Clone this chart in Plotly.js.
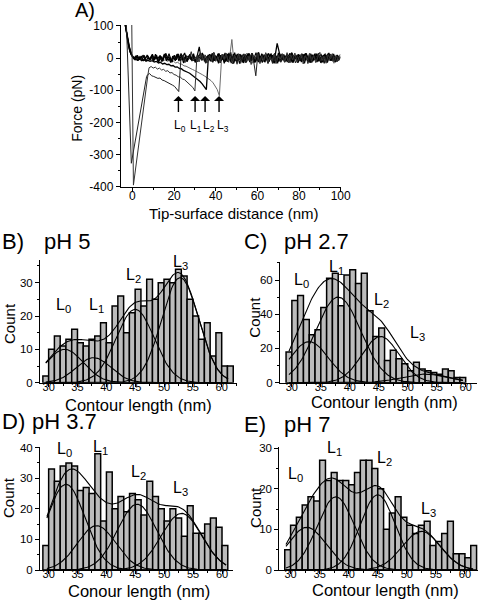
<!DOCTYPE html>
<html><head><meta charset="utf-8">
<script src="https://cdn.plot.ly/plotly-3.0.1.min.js"></script>
<style>html,body{margin:0;padding:0;background:#fff}#chart{width:480px;height:600px}</style>
</head><body><div id="chart"></div>
<script>
// ---------- Panel A: force curves ----------
const forceTicks = [100, 0, -100, -200, -300, -400];
const forceTickText = ['100', '0', '-100', '-200', '-300', '-400'];
const distTicks = [0, 20, 40, 60, 80, 100];
const ruptureX = [22.1, 30.1, 34.9, 41.6];
const ruptureLabelX = [22.9, 30.4, 37.0, 43.6];
const ruptureLabels = ['L<sub>0</sub>', 'L<sub>1</sub>', 'L<sub>2</sub>', 'L<sub>3</sub>'];

// each trace: explicit head points (approach / adhesion) + body sampled every 1 nm
const traceA_headX = [-0.3, 0.5, 7.5];
const traceA_headY = [110, -395, -50];
const traceA_start = 8.0;
const traceA_body = [-30,-26,-31,-28,-34,-31,-37,-35,-41,-39,-46,-45,-51,-53,-58,-59,-65,-67,-73,-77,-84,-91,-102,
 8,-12,15,-6,10,-15,5,-8,18,-10,
 4,-14,12,-3,16,-12,6,-18,10,-5,
 14,-16,3,12,-10,7,-20,9,-4,15,
 -12,6,-8,17,-14,4,-9,13,-17,8,
 -3,14,-11,5,-15,11,-6,16,-13,2,
 12,-18,7,-5,15,-10,9,-14,4,18,
 -8,6,-16,11,-2,14,-12,8,-9,5];

const traceB_headX = [-2.9, -0.5, 6.8];
const traceB_headY = [110, -327, -58];
const traceB_start = 7.25;
const traceB_body = [-52,-48,-55,-57,-60,-63,-62,-68,-70,-73,-76,-80,-84,-88,-95,-104,
 -6,10,-14,7,-3,20,-9,4,-12,14,
 -5,11,-16,3,9,-11,17,-7,2,-15,
 12,-4,8,-13,18,-9,5,-19,10,-2,
 13,-14,6,-7,16,-11,-55,14,-17,9,
 -6,12,-10,5,-16,15,-4,8,-13,11,
 -8,17,-12,3,10,-15,6,-9,14,-5,
 9,-17,12,-3,7,-11,16,-8,4,-14,
 10,-6,13,-10,5,-12,8];

const traceC_headX = [-3.5, -2.5, -1.5, -0.5];
const traceC_headY = [105, 62, 30, 10];
const traceC_start = 0.5;
const traceC_body = [2,-4,-6,-3,-8,-5,-9,-7,-10,-8,
 -12,-10,-15,-13,-18,-16,-20,-19,-24,-23,
 -28,-27,-32,-33,-38,-40,-44,-47,-52,-56,
 -61,-66,-73,-80,-88,-98,
 5,-10,14,-7,3,-13,9,-4,16,-11,
 7,-15,12,-2,8,-17,4,11,-9,15,
 -6,10,-14,2,18,-8,5,-12,9,-3,
 14,-16,6,46,12,-10,5,-7,3,-13,
 17,-9,8,-14,4,11,-6,15,-11,2,
 -8,13,-4,9,-15,6,12,-10,5,-7,
 10,-12,7,-3];

const traceD_headX = [-3.3, -2.3, -1.3, -0.3];
const traceD_headY = [102, 55, 22, 6];
const traceD_start = 0.75;
const traceD_body = [0,5,-3,7,-2,4,-5,3,-6,2,
 -4,1,-7,-3,-8,-5,-10,-7,-12,-10,
 -15,-13,-18,-19,-24,-25,-29,-31,-35,-38,
 -41,-45,-48,-52,-56,-60,-64,-70,-77,-86,-98,-117,
 -8,12,-5,-10,6,58,-14,9,-4,13,
 -11,4,15,-7,10,-16,2,-9,17,-5,
 8,-13,11,-3,14,-10,6,-17,9,-2,
 12,-8,4,-15,16,-6,10,-12,3,13,
 -9,7,-14,11,-4,15,-10,5,-13,8,
 -5,14,-9,3,-16,10,-7,12];

const traceE_headX = [-3.6, -2.6, -1.6, -0.6];
const traceE_headY = [108, 70, 38, 14];
const traceE_start = 0.1;
const traceE_body = [4,-2,6,-5,3,8,-4,10,-6,5,
 -9,12,-3,7,-11,4,15,-7,2,-12,
 9,-5,13,-8,3,16,-10,6,-4,11,
 -13,7,35,-6,10,-15,4,12,-9,5,
 -3,14,-11,8,-16,6,-4,13,-8,17,
 -12,3,9,-14,11,-5,15,-9,2,-13,
 10,-6,14,-10,5,-17,12,-3,8,-11,
 16,-8,4,-13,9,-2,13,-15,7,-6,
 11,-12,5,15,-9,3,-14,10,-4,12,
 -10,8,-16,6,13,-7,4,-11,9,-3];

const traceF_headX = [-3.4, -2.4, -1.4, -0.4];
const traceF_headY = [104, 66, 34, 12];
const traceF_start = 0.35;
const traceF_body = [3,-6,9,-2,5,-9,2,7,-4,10,
 -7,4,-12,8,-3,13,-8,5,-14,6,
 -2,11,-9,15,-5,3,-11,9,-6,14,
 -10,2,12,-7,6,-13,10,-4,15,-8,
 5,-16,9,-3,12,-7,16,-11,4,-9,
 13,-5,8,-15,3,10,-12,6,-2,17,
 -9,4,-14,11,-6,15,-3,9,-16,7,
 -11,13,-4,8,-12,3,16,-7,10,-14,
 5,-9,12,-2,7,-15,11,-6,14,-10,
 4,-13,9,-5,16,-8,3,-12,10,-6];

const traceG_headX = [-3.2, -2.2, -1.2, -0.2];
const traceG_headY = [100, 50, 20, 4];
const traceG_start = 0.6;
const traceG_body = [-3,7,-8,4,-5,9,-10,3,-7,12,
 -4,9,-13,6,-9,11,-2,14,-10,4,
 -8,13,-3,6,-15,10,-5,12,-9,3,
 -14,8,-2,16,-10,5,-7,11,-13,9,
 -4,15,-8,2,-11,13,-6,7,-17,10,
 -2,12,-9,5,-14,8,-4,15,-10,6,
 -12,3,10,-7,14,-11,5,-3,13,-15,
 8,-6,11,-9,2,15,-13,7,-4,12,
 -8,4,-16,9,-3,14,-10,6,-12,5,
 11,-7,3,-14,8,-5,13,-9,4,-2];

// ---------- Histograms ----------
const binCenters = [29.5,30.5,31.5,32.5,33.5,34.5,35.5,36.5,37.5,38.5,39.5,40.5,41.5,42.5,43.5,44.5,45.5,46.5,47.5,48.5,49.5,50.5,51.5,52.5,53.5,54.5,55.5,56.5,57.5,58.5,59.5,60.5,61.5];
const lengthTicks = [30, 35, 40, 45, 50, 55, 60];

const countsB = [2,10,14,11,13,16,12,11,13,14,18,12,23,26,15,21,28,23,31,25,30,31,30,34,32,25,20,13,18,8,15,5,5];
const countsC = [18,48,51,37,28,31,44,61,64,45,63,66,58,64,42,27,32,13,19,14,11,7,12,8,7,6,5,8,7,3,3];
const countsD = [8,33,29,34,35,34,26,27,25,38,16,32,20,24,19,25,23,18,29,24,20,16,20,17,11,21,12,12,15,17,14,8];
const countsE = [5,11,13,16,18,17,27,22,24,22,22,21,24,27,27,25,20,10,14,18,13,11,9,11,12,6,7,9,12,4,4,3,6];

// Gaussian fit parameters (L0..L3)
const fitCentersB = [32.8, 37.8, 45.0, 52.8], fitAmpsB = [10, 7.5, 22, 31.5], fitSigmasB = [3.2, 3.0, 3.3, 3.2];
const fitCentersC = [33.0, 38.0, 45.3, 53.0], fitAmpsC = [24, 50, 27, 5], fitSigmasC = [3.3, 3.9, 3.2, 4.0];
const fitCentersD = [33.0, 38.3, 45.3, 53.0], fitAmpsD = [28, 14.5, 21.5, 18.5], fitSigmasD = [3.3, 3.3, 3.4, 3.5];
const fitCentersE = [32.8, 37.8, 45.0, 52.5], fitAmpsE = [10.5, 18, 18.5, 9.5], fitSigmasE = [3.3, 3.2, 3.0, 3.3];
const fitRangeB = [29.5, 61.2], fitRangeC = [29.5, 59.5], fitRangeD = [29.7, 60.7], fitRangeE = [29.2, 61.5];

const labelL = ['L<sub>0</sub>', 'L<sub>1</sub>', 'L<sub>2</sub>', 'L<sub>3</sub>'];
const labelPosB = [[32.6, 23], [38.3, 23], [44.7, 32], [52.8, 36]];
const labelPosC = [[31.7, 60], [37.7, 67.5], [45.5, 48], [51.6, 29]];
const labelPosD = [[32.8, 39.5], [38.9, 40], [45.5, 32], [52.8, 26.7]];
const labelPosE = [[30.8, 23.4], [37.6, 29.8], [46.2, 27.5], [53.7, 14.8]];

// ---------- build ----------
const FONT = 'Liberation Sans, Arial, Helvetica, sans-serif';
const data = [];

function forceTrace(hx, hy, start, body, color, w) {
  const x = hx.slice(), y = hy.slice();
  body.forEach((v, i) => { x.push(start + i); y.push(v); });
  return {type: 'scatter', mode: 'lines', x: x, y: y, xaxis: 'x', yaxis: 'y',
          line: {color: color, width: w}, hoverinfo: 'skip'};
}
data.push(forceTrace(traceD_headX, traceD_headY, traceD_start, traceD_body, '#6a6a6a', 1.0));
data.push(forceTrace(traceE_headX, traceE_headY, traceE_start, traceE_body, '#000', 1.2));
data.push(forceTrace(traceF_headX, traceF_headY, traceF_start, traceF_body, '#000', 1.2));
data.push(forceTrace(traceG_headX, traceG_headY, traceG_start, traceG_body, '#000', 1.2));
data.push(forceTrace(traceC_headX, traceC_headY, traceC_start, traceC_body, '#000', 1.3));
data.push(forceTrace(traceB_headX, traceB_headY, traceB_start, traceB_body, '#222', 1.0));
data.push(forceTrace(traceA_headX, traceA_headY, traceA_start, traceA_body, '#333', 1.0));

function histPanel(counts, centers, amps, sigmas, range, ax) {
  data.push({type: 'bar', x: binCenters.slice(0, counts.length), y: counts, width: 1,
    xaxis: 'x' + ax, yaxis: 'y' + ax,
    marker: {color: '#bcbcbc', line: {color: '#000', width: 1.5}}, hoverinfo: 'skip'});
  const xs = [];
  for (let v = range[0]; v <= range[1] + 1e-9; v += 0.2) xs.push(v);
  const sum = xs.map(() => 0);
  for (let k = 0; k < centers.length; k++) {
    const ys = xs.map(v => amps[k] * Math.exp(-Math.pow(v - centers[k], 2) / (2 * sigmas[k] * sigmas[k])));
    ys.forEach((v, i) => sum[i] += v);
    data.push({type: 'scatter', mode: 'lines', x: xs, y: ys, xaxis: 'x' + ax, yaxis: 'y' + ax,
      line: {color: '#000', width: 1.1}, hoverinfo: 'skip'});
  }
  data.push({type: 'scatter', mode: 'lines', x: xs, y: sum, xaxis: 'x' + ax, yaxis: 'y' + ax,
    line: {color: '#000', width: 1.1}, hoverinfo: 'skip'});
}
histPanel(countsB, fitCentersB, fitAmpsB, fitSigmasB, fitRangeB, 2);
histPanel(countsC, fitCentersC, fitAmpsC, fitSigmasC, fitRangeC, 3);
histPanel(countsD, fitCentersD, fitAmpsD, fitSigmasD, fitRangeD, 4);
histPanel(countsE, fitCentersE, fitAmpsE, fitSigmasE, fitRangeE, 5);

function axisBase(size, extra) {
  return Object.assign({showline: true, linecolor: '#000', linewidth: 1, showgrid: false, zeroline: false,
    ticks: 'outside', ticklen: 4, tickwidth: 1, tickcolor: '#000',
    tickfont: {family: FONT, size: size, color: '#000'}, fixedrange: true,
    tickmode: 'array'}, extra);
}
function minor(d) { return {ticks: 'outside', ticklen: 2, dtick: d, tick0: 0, tickcolor: '#000'}; }

const layout = {
  width: 480, height: 600, margin: {l: 0, r: 0, t: 0, b: 0},
  paper_bgcolor: '#fff', plot_bgcolor: 'rgba(0,0,0,0)', showlegend: false,
  font: {family: FONT, color: '#000'},
  xaxis: axisBase(12, {domain: [0.2515, 0.7098], anchor: 'y', range: [-5.6, 100], tickvals: distTicks,
    ticklen: 3, ticklabelstandoff: -5, minor: minor(10)}),
  yaxis: axisBase(12, {domain: [0.6888, 0.9583], anchor: 'x', range: [-400, 103], tickvals: forceTicks, ticktext: forceTickText,
    minor: minor(50)}),
  xaxis2: axisBase(11, {domain: [0.0833, 0.4931], anchor: 'y2', range: [28.5, 62.6], tickvals: lengthTicks,
    ticklen: 3, ticklabelstandoff: -9, minor: minor(2.5)}),
  yaxis2: axisBase(11.5, {domain: [0.3622, 0.5667], anchor: 'x2', range: [0, 36.8], tickvals: [0, 10, 20, 30],
    minor: minor(5)}),
  xaxis3: axisBase(11, {domain: [0.5833, 0.9931], anchor: 'y3', range: [27.95, 61.9], tickvals: lengthTicks,
    ticklen: 3, ticklabelstandoff: -9, minor: minor(2.5)}),
  yaxis3: axisBase(11.5, {domain: [0.3622, 0.5638], anchor: 'x3', range: [0, 70.7], tickvals: [0, 20, 40, 60],
    minor: minor(10)}),
  xaxis4: axisBase(11, {domain: [0.0833, 0.4854], anchor: 'y4', range: [28.5, 61.9], tickvals: lengthTicks,
    ticklen: 3, ticklabelstandoff: -9, minor: minor(2.5)}),
  yaxis4: axisBase(11.5, {domain: [0.05, 0.2555], anchor: 'x4', range: [0, 40.3], tickvals: [0, 10, 20, 30, 40],
    minor: minor(5)}),
  xaxis5: axisBase(11, {domain: [0.5819, 0.9965], anchor: 'y5', range: [28.06, 62.3], tickvals: lengthTicks,
    ticklen: 3, ticklabelstandoff: -9, minor: minor(2.5)}),
  yaxis5: axisBase(11.5, {domain: [0.05, 0.2545], anchor: 'x5', range: [0, 30.2], tickvals: [0, 10, 20, 30],
    minor: minor(5)}),
  annotations: []
};

const ann = layout.annotations;
function paperText(text, x, y, size, xanchor, angle) {
  ann.push({text: text, x: x, y: y, xref: 'paper', yref: 'paper', showarrow: false,
    xanchor: xanchor || 'center', yanchor: 'middle', textangle: angle || 0,
    font: {family: FONT, size: size, color: '#000'}});
}
// panel headings
paperText('A)', 0.152, 0.983, 20, 'left');
paperText('B)', 0.0, 0.598, 22, 'left');
paperText('pH 5', 0.088, 0.598, 22, 'left');
paperText('C)', 0.504, 0.597, 22, 'left');
paperText('pH 2.7', 0.588, 0.597, 22, 'left');
paperText('D)', 0.0, 0.297, 22, 'left');
paperText('pH 3.7', 0.0625, 0.297, 22, 'left');
paperText('E)', 0.504, 0.293, 22, 'left');
paperText('pH 7', 0.588, 0.293, 22, 'left');
// axis titles
paperText('Tip-surface distance (nm)', 0.4885, 0.644, 15);
paperText('Force (pN)', 0.160, 0.82, 14, 'center', -90);
paperText('Contour length (nm)', 0.2875, 0.325, 16.5);
paperText('Contour length (nm)', 0.802, 0.330, 16.5);
paperText('Conour length (nm)', 0.29, 0.015, 16.5);
paperText('Contour length (nm)', 0.804, 0.017, 16.5);
paperText('Count', 0.0208, 0.4617, 15, 'center', -90);
paperText('Count', 0.531, 0.472, 15, 'center', -90);
paperText('Count', 0.0167, 0.17, 15, 'center', -90);
paperText('Count', 0.531, 0.155, 15, 'center', -90);

// arrows and labels in panel A
ruptureX.forEach((rx, i) => {
  ann.push({text: '', x: rx, y: -118, ax: rx, ay: -172, xref: 'x', yref: 'y', axref: 'x', ayref: 'y',
    showarrow: true, arrowhead: 1, arrowsize: 1.2, arrowwidth: 1.4, arrowcolor: '#000'});
  ann.push({text: ruptureLabels[i], x: ruptureLabelX[i], y: -211,
    xref: 'x', yref: 'y', showarrow: false, font: {family: FONT, size: 12, color: '#000'}});
});
// L labels on histograms
function histLabels(pos, ax) {
  pos.forEach((p, i) => ann.push({text: labelL[i], x: p[0], y: p[1], xref: 'x' + ax, yref: 'y' + ax,
    showarrow: false, font: {family: FONT, size: 16, color: '#000'}}));
}
histLabels(labelPosB, 2); histLabels(labelPosC, 3); histLabels(labelPosD, 4); histLabels(labelPosE, 5);

Plotly.newPlot('chart', data, layout, {staticPlot: true, displayModeBar: false});
</script></body></html>
